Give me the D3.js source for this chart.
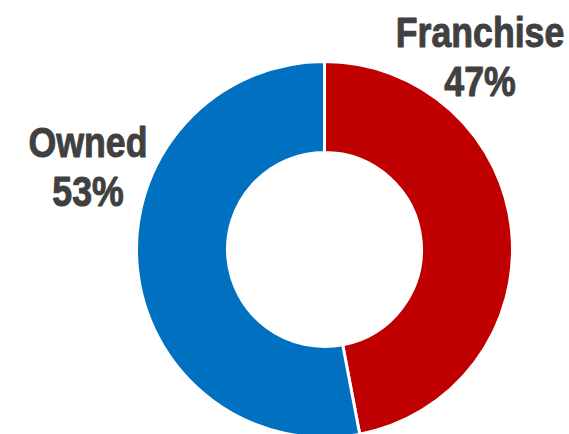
<!DOCTYPE html>
<html>
<head>
<meta charset="utf-8">
<script src="https://cdn.jsdelivr.net/npm/d3@7"></script>
<style>
  html, body { margin: 0; padding: 0; background: #ffffff; }
  svg { display: block; }
  .lbl { font-family: "Liberation Sans Narrow", "Arial Narrow", "Liberation Sans", sans-serif; font-weight: bold; font-size: 43px; fill: #404040; stroke: #404040; stroke-width: 1px; stroke-linejoin: round; }
</style>
</head>
<body>
<svg id="chart" width="569" height="434"></svg>
<script>
// Share of locations by ownership type
const categories = ["Franchise", "Owned"];
const shares = [47, 53];
const colors = ["#C00000", "#0070C0"];

const svg = d3.select("#chart");
const cx = 324.5, cy = 249.5;
const outerR = 188, innerR = 97;

const pie = d3.pie().sort(null).value(d => d.value);
const arcs = pie(categories.map((c, i) => ({ name: c, value: shares[i], color: colors[i] })));
const arc = d3.arc().innerRadius(innerR).outerRadius(outerR);

const g = svg.append("g").attr("transform", `translate(${cx},${cy})`);
g.selectAll("path")
  .data(arcs)
  .join("path")
  .attr("d", arc)
  .attr("fill", d => d.data.color)
  .attr("stroke", "#ffffff")
  .attr("stroke-width", 3);

// Labels placed outside the ring, condensed horizontally
const labelPos = { Franchise: [480, 47], Owned: [88, 157] };
const lineGap = 49;
const squeeze = 0.83;
arcs.forEach(d => {
  const [x, y] = labelPos[d.data.name];
  const t = svg.append("text")
    .attr("class", "lbl")
    .attr("text-anchor", "middle")
    .attr("transform", `translate(${x},${y}) scale(${squeeze},1)`);
  t.append("tspan").attr("x", 0).attr("y", 0).text(d.data.name);
  t.append("tspan").attr("x", 0).attr("y", lineGap).text(d3.format(".0%")(d.data.value / 100));
});
</script>
</body>
</html>
